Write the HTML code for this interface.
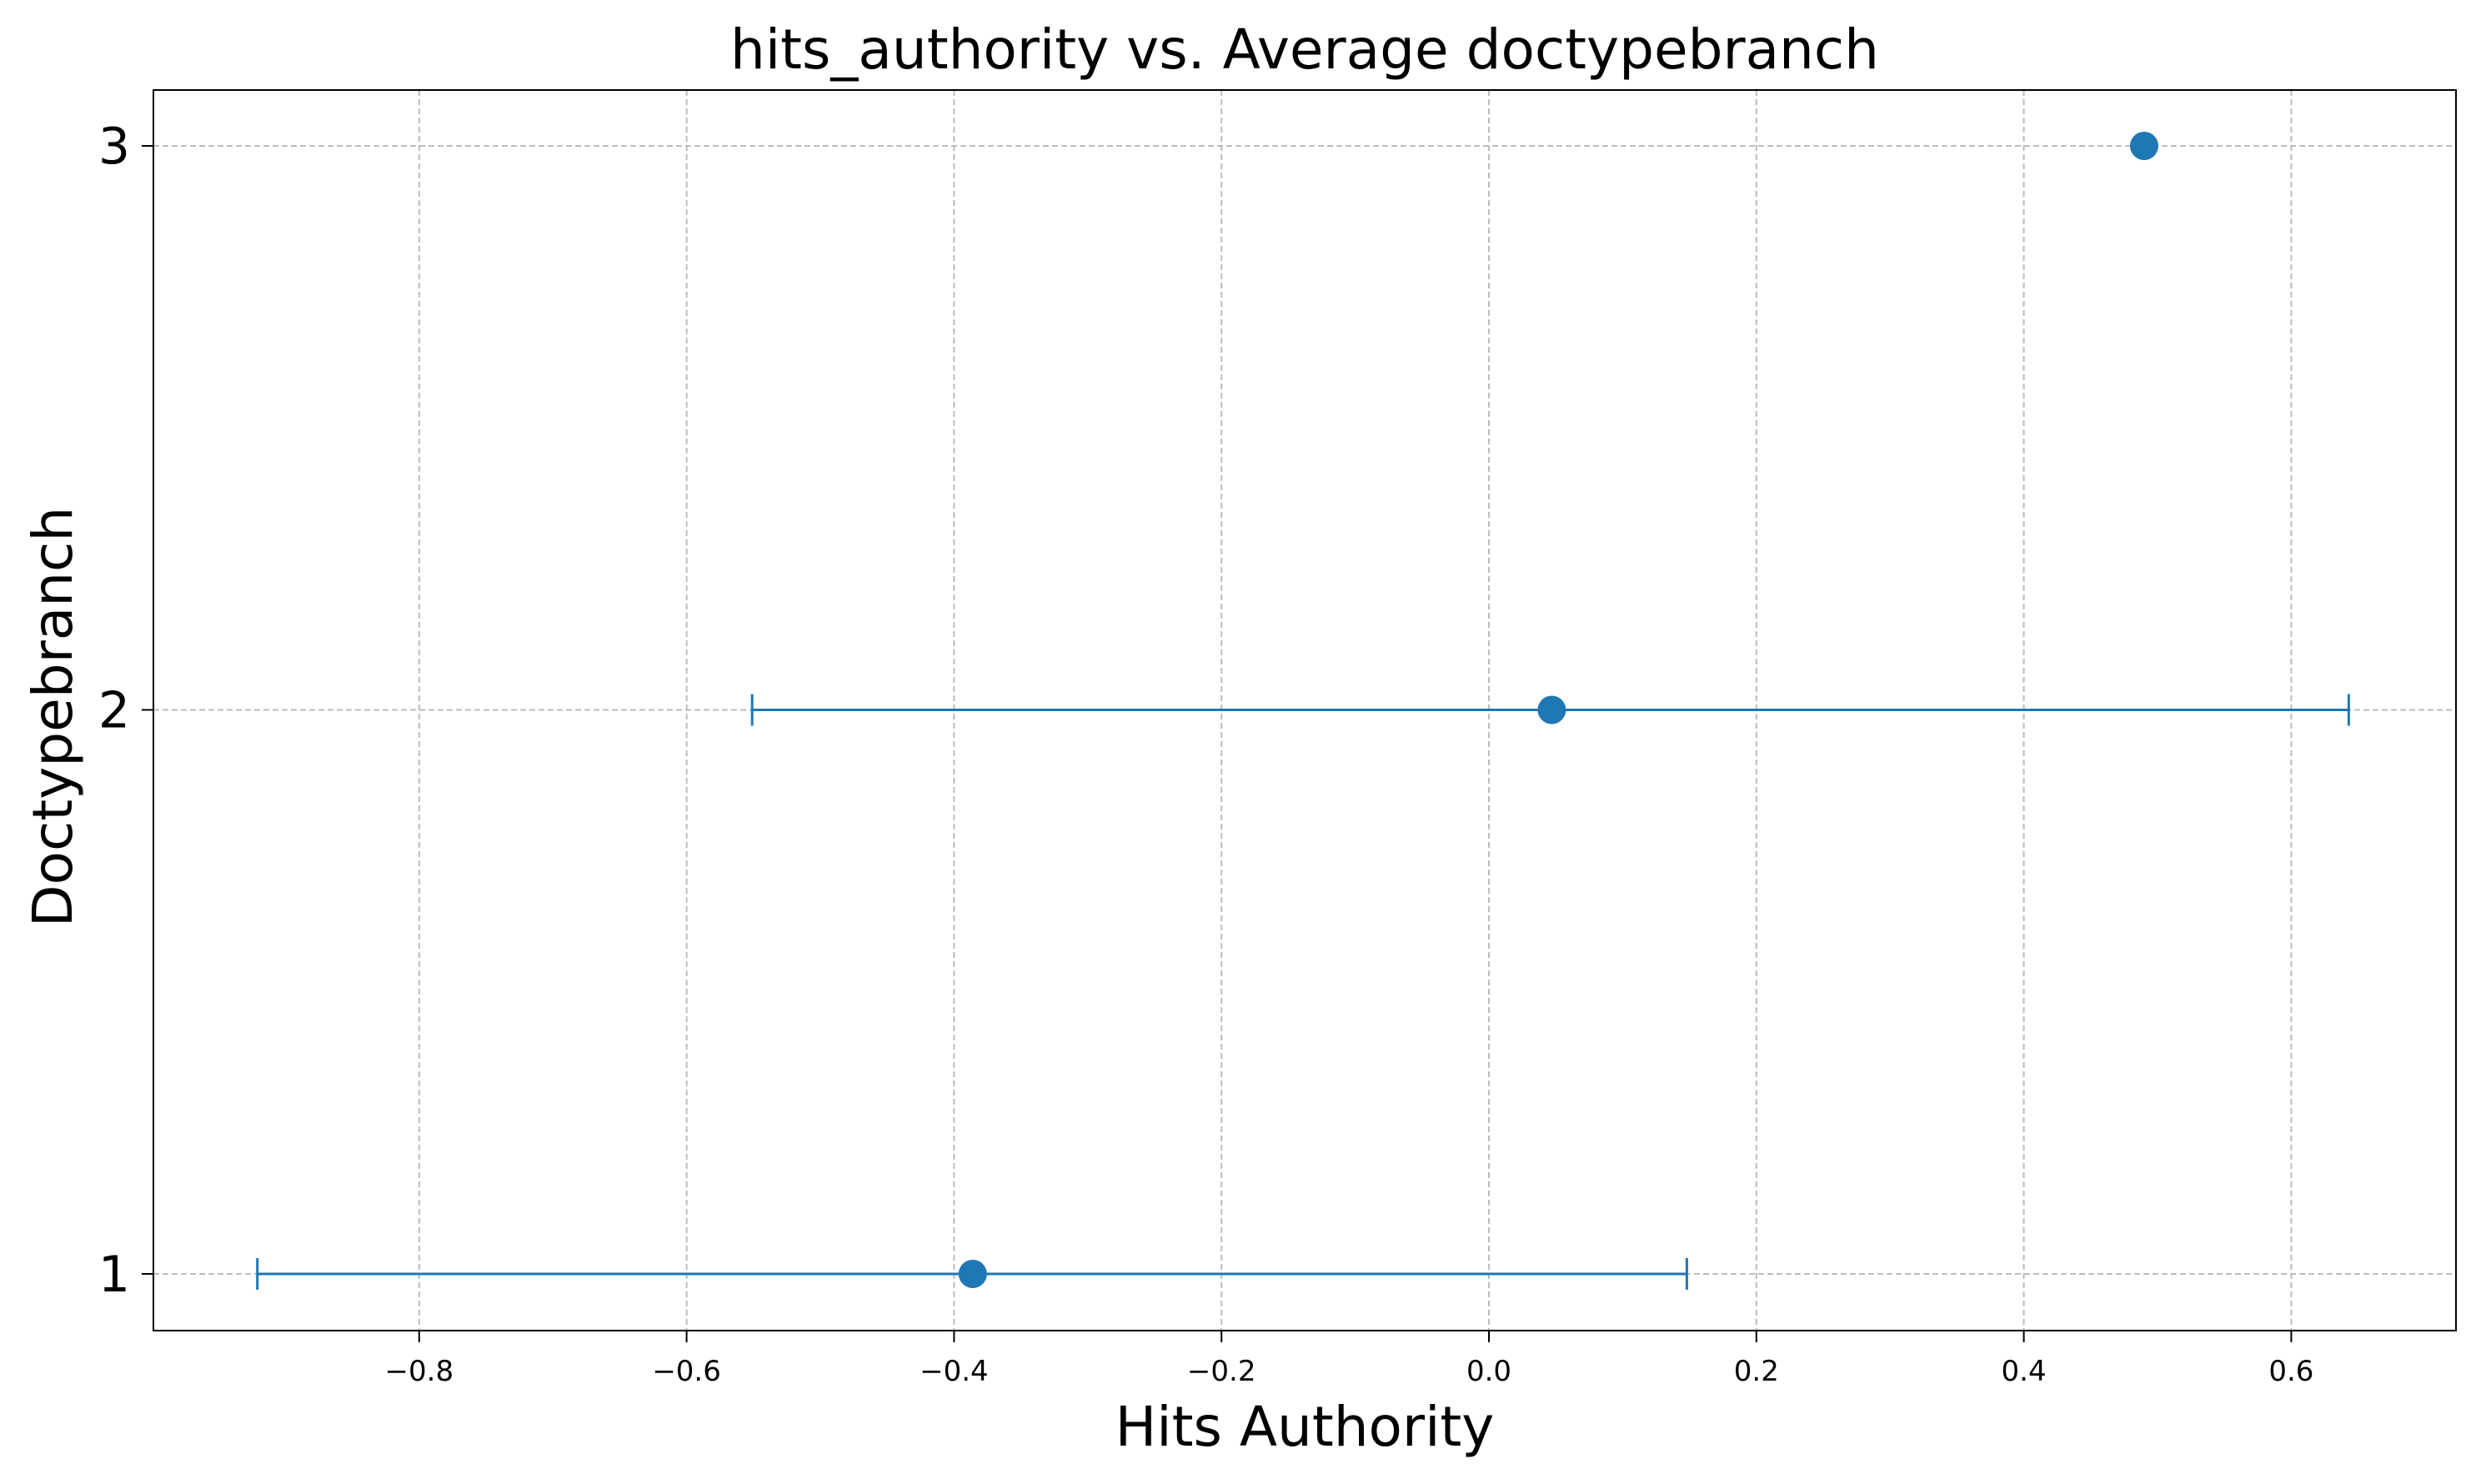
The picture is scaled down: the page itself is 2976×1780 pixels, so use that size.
<!DOCTYPE html>
<html><head><meta charset="utf-8"><style>
html,body{margin:0;padding:0;background:#fff;}
svg{display:block;font-family:"DejaVu Sans","Liberation Sans",sans-serif;}
</style></head><body>
<svg id="chart" width="2976" height="1780" viewBox="0 0 2976 1780">
<rect x="0" y="0" width="2976" height="1780" fill="#fff"/>
<g id="grid"></g>
<g id="series"></g>
<rect x="184" y="108" width="2762" height="1488" fill="none" stroke="#000" stroke-width="2"/>
<g id="ticks"></g>
<text x="1565" y="82" font-size="66" text-anchor="middle">hits_authority vs. Average doctypebranch</text>
<text x="1565" y="1734" font-size="66" text-anchor="middle">Hits Authority</text>
<text x="0" y="0" font-size="66" text-anchor="middle" transform="translate(86,860) rotate(-90)">Doctypebranch</text>
</svg>
<script>
const categories = [1, 2, 3];
const means = [-0.386, 0.047, 0.49];
const lowers = [-0.921, -0.551, null];
const uppers = [0.148, 0.643, null];
const xTicks = [-0.8, -0.6, -0.4, -0.2, 0.0, 0.2, 0.4, 0.6];
const xTickLabels = ["\u22120.8","\u22120.6","\u22120.4","\u22120.2","0.0","0.2","0.4","0.6"];
const yTicks = [1, 2, 3];

const NS = "http://www.w3.org/2000/svg";
const xs = v => 1786 + v * 1604;
const ys = v => 1528 - (v - 1) * 676.5;
function mk(tag, attrs, parent){const e=document.createElementNS(NS,tag);for(const k in attrs)e.setAttribute(k,attrs[k]);parent.appendChild(e);return e;}
const grid=document.getElementById('grid'), ticks=document.getElementById('ticks'), series=document.getElementById('series');
xTicks.forEach((t,i)=>{
  const x=xs(t);
  const g=mk('line',{x1:x,x2:x,y1:108,y2:1596,stroke:'#bbb','stroke-width':2,'stroke-dasharray':'7,4'},grid);
  
  
  const tk=mk('line',{x1:x,x2:x,y1:1596,y2:1610,stroke:'#000','stroke-width':2},ticks);
  
  
  const tl=mk('text',{x:x,y:1656,'font-size':34,'text-anchor':'middle'},ticks);
  tl.textContent=xTickLabels[i];
  
  
});
yTicks.forEach(t=>{
  const y=ys(t);
  const g=mk('line',{x1:184,x2:2946,y1:y,y2:y,stroke:'#bbb','stroke-width':2,'stroke-dasharray':'7,4'},grid);
  
  
  const tk=mk('line',{x1:170,x2:184,y1:y,y2:y,stroke:'#000','stroke-width':2},ticks);
  
  
  const tl=mk('text',{x:156,y:y+21,'font-size':60,'text-anchor':'end'},ticks);
  tl.textContent=String(t);
  
  
});
const C='#1f77b4';
categories.forEach((c,i)=>{
  const y=ys(c);
  if(lowers[i]!==null){
    const l=mk('line',{x1:xs(lowers[i]),x2:xs(uppers[i]),y1:y,y2:y,stroke:C,'stroke-width':3},series);
    
    
    [lowers[i],uppers[i]].forEach(v=>{
      const cap=mk('line',{x1:xs(v),x2:xs(v),y1:y-19,y2:y+19,stroke:C,'stroke-width':3},series);
      
      
    });
  }
  const p=mk('circle',{cx:xs(means[i]),cy:y,r:17,fill:C},series);
  
  
});
</script>
</body></html>
